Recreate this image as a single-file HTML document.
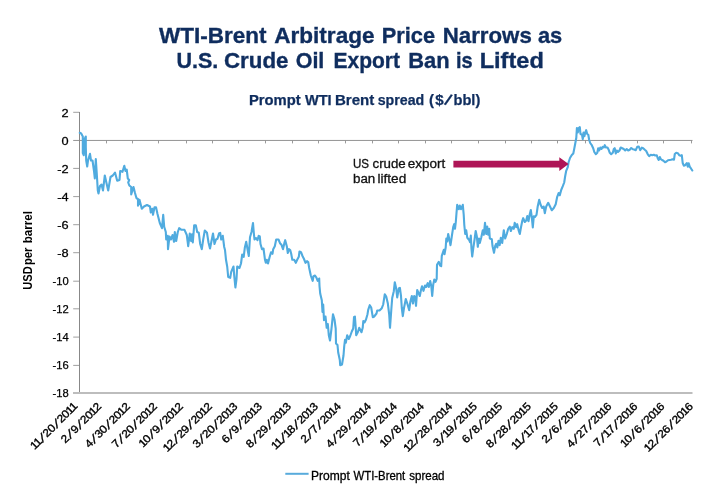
<!DOCTYPE html>
<html lang="en"><head><meta charset="utf-8"><title>WTI-Brent Arbitrage Price Narrows as U.S. Crude Oil Export Ban is Lifted</title>
<style>html,body{margin:0;padding:0;background:#fff;}svg{display:block;}text{font-family:"Liberation Sans",Arial,Helvetica,sans-serif;}</style></head><body>
<svg width="720" height="500" viewBox="0 0 720 500">
<rect width="720" height="500" fill="#fff"/>
<g fill="#0f2d5e" stroke="#0f2d5e" stroke-width="0.35" font-weight="bold">
<text y="43.3" font-size="22"><tspan x="159.00" textLength="107.50" lengthAdjust="spacingAndGlyphs">WTI-Brent</tspan> <tspan x="274.25" textLength="100.26" lengthAdjust="spacingAndGlyphs">Arbitrage</tspan> <tspan x="381.71" textLength="53.31" lengthAdjust="spacingAndGlyphs">Price</tspan> <tspan x="442.72" textLength="89.05" lengthAdjust="spacingAndGlyphs">Narrows</tspan> <tspan x="537.98" textLength="24.30" lengthAdjust="spacingAndGlyphs">as</tspan></text>
<text y="67.9" font-size="22"><tspan x="176.45" textLength="41.87" lengthAdjust="spacingAndGlyphs">U.S.</tspan> <tspan x="223.99" textLength="64.52" lengthAdjust="spacingAndGlyphs">Crude</tspan> <tspan x="295.70" textLength="28.64" lengthAdjust="spacingAndGlyphs">Oil</tspan> <tspan x="333.48" textLength="66.52" lengthAdjust="spacingAndGlyphs">Export</tspan> <tspan x="408.18" textLength="41.39" lengthAdjust="spacingAndGlyphs">Ban</tspan> <tspan x="455.89" textLength="16.67" lengthAdjust="spacingAndGlyphs">is</tspan> <tspan x="479.70" textLength="64.11" lengthAdjust="spacingAndGlyphs">Lifted</tspan></text>
<text x="248.9" y="104.7" font-size="14.3" stroke-width="0.25"><tspan x="248.9" y="104.7" textLength="51.8" lengthAdjust="spacingAndGlyphs">Prompt</tspan> <tspan x="304.9" y="104.7" textLength="26.8" lengthAdjust="spacingAndGlyphs">WTI</tspan> <tspan x="334.9" y="104.7" textLength="39.4" lengthAdjust="spacingAndGlyphs">Brent</tspan> <tspan x="377.7" y="104.7" textLength="46.6" lengthAdjust="spacingAndGlyphs">spread</tspan> <tspan x="428.9" y="104.7" textLength="5.0" lengthAdjust="spacingAndGlyphs">(</tspan><tspan x="435.3" y="104.7" textLength="8.4" lengthAdjust="spacingAndGlyphs">$</tspan><tspan x="444.1" y="104.1" font-size="16" rotate="24">/</tspan><tspan x="453.5" y="104.7" textLength="26.8" lengthAdjust="spacingAndGlyphs">bbl)</tspan></text>
</g>
<g stroke="#888888" stroke-width="1" fill="none">
<line x1="79.5" y1="112" x2="79.5" y2="393"/>
<line x1="73.2" y1="112.30" x2="79.5" y2="112.30" stroke-width="0.8"/>
<line x1="73.2" y1="168.40" x2="79.5" y2="168.40" stroke-width="0.8"/>
<line x1="73.2" y1="196.60" x2="79.5" y2="196.60" stroke-width="0.8"/>
<line x1="73.2" y1="224.70" x2="79.5" y2="224.70" stroke-width="0.8"/>
<line x1="73.2" y1="252.70" x2="79.5" y2="252.70" stroke-width="0.8"/>
<line x1="73.2" y1="281.20" x2="79.5" y2="281.20" stroke-width="0.8"/>
<line x1="73.2" y1="308.80" x2="79.5" y2="308.80" stroke-width="0.8"/>
<line x1="73.2" y1="337.10" x2="79.5" y2="337.10" stroke-width="0.8"/>
<line x1="73.2" y1="365.40" x2="79.5" y2="365.40" stroke-width="0.8"/>
<line x1="73.2" y1="140.45" x2="692.5" y2="140.45" stroke-width="0.9"/>
<line x1="106.5" y1="140.5" x2="106.5" y2="143.4" stroke-width="0.9" stroke="#909090"/>
<line x1="132.5" y1="140.5" x2="132.5" y2="143.4" stroke-width="0.9" stroke="#909090"/>
<line x1="158.5" y1="140.5" x2="158.5" y2="143.4" stroke-width="0.9" stroke="#909090"/>
<line x1="186.5" y1="140.5" x2="186.5" y2="143.4" stroke-width="0.9" stroke="#909090"/>
<line x1="212.5" y1="140.5" x2="212.5" y2="143.4" stroke-width="0.9" stroke="#909090"/>
<line x1="238.5" y1="140.5" x2="238.5" y2="143.4" stroke-width="0.9" stroke="#909090"/>
<line x1="265.5" y1="140.5" x2="265.5" y2="143.4" stroke-width="0.9" stroke="#909090"/>
<line x1="292.5" y1="140.5" x2="292.5" y2="143.4" stroke-width="0.9" stroke="#909090"/>
<line x1="318.5" y1="140.5" x2="318.5" y2="143.4" stroke-width="0.9" stroke="#909090"/>
<line x1="345.5" y1="140.5" x2="345.5" y2="143.4" stroke-width="0.9" stroke="#909090"/>
<line x1="372.5" y1="140.5" x2="372.5" y2="143.4" stroke-width="0.9" stroke="#909090"/>
<line x1="398.5" y1="140.5" x2="398.5" y2="143.4" stroke-width="0.9" stroke="#909090"/>
<line x1="425.5" y1="140.5" x2="425.5" y2="143.4" stroke-width="0.9" stroke="#909090"/>
<line x1="451.5" y1="140.5" x2="451.5" y2="143.4" stroke-width="0.9" stroke="#909090"/>
<line x1="478.5" y1="140.5" x2="478.5" y2="143.4" stroke-width="0.9" stroke="#909090"/>
<line x1="505.5" y1="140.5" x2="505.5" y2="143.4" stroke-width="0.9" stroke="#909090"/>
<line x1="531.5" y1="140.5" x2="531.5" y2="143.4" stroke-width="0.9" stroke="#909090"/>
<line x1="557.5" y1="140.5" x2="557.5" y2="143.4" stroke-width="0.9" stroke="#909090"/>
<line x1="585.5" y1="140.5" x2="585.5" y2="143.4" stroke-width="0.9" stroke="#909090"/>
<line x1="611.5" y1="140.5" x2="611.5" y2="143.4" stroke-width="0.9" stroke="#909090"/>
<line x1="637.5" y1="140.5" x2="637.5" y2="143.4" stroke-width="0.9" stroke="#909090"/>
<line x1="663.5" y1="140.5" x2="663.5" y2="143.4" stroke-width="0.9" stroke="#909090"/>
<line x1="691.5" y1="140.5" x2="691.5" y2="143.4" stroke-width="0.9" stroke="#909090"/>
</g>
<line x1="73" y1="393" x2="692.5" y2="393" stroke="#bdbdbd" stroke-width="2"/>
<g font-size="11.2" fill="#000" stroke="#000" stroke-width="0.25" text-anchor="end">
<text transform="translate(68.7,117.00) scale(1.14,1)">2</text>
<text transform="translate(68.7,144.98) scale(1.14,1)">0</text>
<text transform="translate(68.7,172.96) scale(1.14,1)">-2</text>
<text transform="translate(68.7,200.94) scale(1.14,1)">-4</text>
<text transform="translate(68.7,228.92) scale(1.14,1)">-6</text>
<text transform="translate(68.7,256.90) scale(1.14,1)">-8</text>
<text transform="translate(68.7,284.88) scale(1.0,1)">-10</text>
<text transform="translate(68.7,312.86) scale(1.0,1)">-12</text>
<text transform="translate(68.7,340.84) scale(1.0,1)">-14</text>
<text transform="translate(68.7,368.82) scale(1.0,1)">-16</text>
<text transform="translate(68.7,396.80) scale(1.0,1)">-18</text>
</g>
<text transform="translate(31.5,0) rotate(-90)" y="0" font-size="12.5" font-weight="bold" fill="#000"><tspan x="-289.77" textLength="23.54" lengthAdjust="spacingAndGlyphs">USD</tspan> <tspan x="-265.02" textLength="17.52" lengthAdjust="spacingAndGlyphs">per</tspan> <tspan x="-243.28" textLength="32.31" lengthAdjust="spacingAndGlyphs">barrel</tspan></text>
<g font-size="11.0" fill="#000" stroke="#000" stroke-width="0.35">
<text transform="translate(77.60,407.20) rotate(-45) scale(1.1,1)" x="-55.51 -50.97 -45.41 -39.29 -33.38 -27.14 -21.01 -15.10 -9.88 -5.33" y="0.00 0.00 0.19 0.00 0.00 0.19 0.00 0.00 0.00 0.00" rotate="0 0 17 0 0 17 0 0 0 0">11<tspan font-size="12.6">/</tspan>20<tspan font-size="12.6">/</tspan>2011</text>
<text transform="translate(102.00,407.20) rotate(-45) scale(1.1,1)" x="-47.10 -40.86 -34.74 -28.50 -22.38 -16.47 -11.24 -6.01" y="0.00 0.19 0.00 0.19 0.00 0.00 0.00 0.00" rotate="0 17 0 17 0 0 0 0">2<tspan font-size="12.6">/</tspan>9<tspan font-size="12.6">/</tspan>2012</text>
<text transform="translate(130.60,407.20) rotate(-45) scale(1.1,1)" x="-53.01 -46.77 -40.65 -34.74 -28.50 -22.38 -16.47 -11.24 -6.01" y="0.00 0.19 0.00 0.00 0.19 0.00 0.00 0.00 0.00" rotate="0 17 0 0 17 0 0 0 0">4<tspan font-size="12.6">/</tspan>30<tspan font-size="12.6">/</tspan>2012</text>
<text transform="translate(157.60,407.20) rotate(-45) scale(1.1,1)" x="-53.01 -46.77 -40.65 -34.74 -28.50 -22.38 -16.47 -11.24 -6.01" y="0.00 0.19 0.00 0.00 0.19 0.00 0.00 0.00 0.00" rotate="0 17 0 0 17 0 0 0 0">7<tspan font-size="12.6">/</tspan>20<tspan font-size="12.6">/</tspan>2012</text>
<text transform="translate(183.60,407.20) rotate(-45) scale(1.1,1)" x="-52.33 -47.10 -40.86 -34.74 -28.50 -22.38 -16.47 -11.24 -6.01" y="0.00 0.00 0.19 0.00 0.19 0.00 0.00 0.00 0.00" rotate="0 0 17 0 17 0 0 0 0">10<tspan font-size="12.6">/</tspan>9<tspan font-size="12.6">/</tspan>2012</text>
<text transform="translate(212.60,407.20) rotate(-45) scale(1.1,1)" x="-58.24 -53.01 -46.77 -40.65 -34.74 -28.50 -22.38 -16.47 -11.24 -6.01" y="0.00 0.00 0.19 0.00 0.00 0.19 0.00 0.00 0.00 0.00" rotate="0 0 17 0 0 17 0 0 0 0">12<tspan font-size="12.6">/</tspan>29<tspan font-size="12.6">/</tspan>2012</text>
<text transform="translate(238.20,407.20) rotate(-45) scale(1.1,1)" x="-53.01 -46.77 -40.65 -34.74 -28.50 -22.38 -16.47 -11.24 -6.01" y="0.00 0.19 0.00 0.00 0.19 0.00 0.00 0.00 0.00" rotate="0 17 0 0 17 0 0 0 0">3<tspan font-size="12.6">/</tspan>20<tspan font-size="12.6">/</tspan>2013</text>
<text transform="translate(262.60,407.20) rotate(-45) scale(1.1,1)" x="-47.10 -40.86 -34.74 -28.50 -22.38 -16.47 -11.24 -6.01" y="0.00 0.19 0.00 0.19 0.00 0.00 0.00 0.00" rotate="0 17 0 17 0 0 0 0">6<tspan font-size="12.6">/</tspan>9<tspan font-size="12.6">/</tspan>2013</text>
<text transform="translate(291.60,407.20) rotate(-45) scale(1.1,1)" x="-53.01 -46.77 -40.65 -34.74 -28.50 -22.38 -16.47 -11.24 -6.01" y="0.00 0.19 0.00 0.00 0.19 0.00 0.00 0.00 0.00" rotate="0 17 0 0 17 0 0 0 0">8<tspan font-size="12.6">/</tspan>29<tspan font-size="12.6">/</tspan>2013</text>
<text transform="translate(318.60,407.20) rotate(-45) scale(1.1,1)" x="-55.51 -50.97 -45.41 -39.97 -34.74 -28.50 -22.38 -16.47 -11.24 -6.01" y="0.00 0.00 0.19 0.00 0.00 0.19 0.00 0.00 0.00 0.00" rotate="0 0 17 0 0 17 0 0 0 0">11<tspan font-size="12.6">/</tspan>18<tspan font-size="12.6">/</tspan>2013</text>
<text transform="translate(341.60,407.20) rotate(-45) scale(1.1,1)" x="-47.10 -40.86 -34.74 -28.50 -22.38 -16.47 -11.24 -6.01" y="0.00 0.19 0.00 0.19 0.00 0.00 0.00 0.00" rotate="0 17 0 17 0 0 0 0">2<tspan font-size="12.6">/</tspan>7<tspan font-size="12.6">/</tspan>2014</text>
<text transform="translate(371.60,407.20) rotate(-45) scale(1.1,1)" x="-53.01 -46.77 -40.65 -34.74 -28.50 -22.38 -16.47 -11.24 -6.01" y="0.00 0.19 0.00 0.00 0.19 0.00 0.00 0.00 0.00" rotate="0 17 0 0 17 0 0 0 0">4<tspan font-size="12.6">/</tspan>29<tspan font-size="12.6">/</tspan>2014</text>
<text transform="translate(397.60,407.20) rotate(-45) scale(1.1,1)" x="-51.65 -45.41 -39.97 -34.74 -28.50 -22.38 -16.47 -11.24 -6.01" y="0.00 0.19 0.00 0.00 0.19 0.00 0.00 0.00 0.00" rotate="0 17 0 0 17 0 0 0 0">7<tspan font-size="12.6">/</tspan>19<tspan font-size="12.6">/</tspan>2014</text>
<text transform="translate(424.60,407.20) rotate(-45) scale(1.1,1)" x="-52.33 -47.10 -40.86 -34.74 -28.50 -22.38 -16.47 -11.24 -6.01" y="0.00 0.00 0.19 0.00 0.19 0.00 0.00 0.00 0.00" rotate="0 0 17 0 17 0 0 0 0">10<tspan font-size="12.6">/</tspan>8<tspan font-size="12.6">/</tspan>2014</text>
<text transform="translate(453.00,407.20) rotate(-45) scale(1.1,1)" x="-58.24 -53.01 -46.77 -40.65 -34.74 -28.50 -22.38 -16.47 -11.24 -6.01" y="0.00 0.00 0.19 0.00 0.00 0.19 0.00 0.00 0.00 0.00" rotate="0 0 17 0 0 17 0 0 0 0">12<tspan font-size="12.6">/</tspan>28<tspan font-size="12.6">/</tspan>2014</text>
<text transform="translate(477.60,407.20) rotate(-45) scale(1.1,1)" x="-51.65 -45.41 -39.97 -34.74 -28.50 -22.38 -16.47 -11.24 -6.01" y="0.00 0.19 0.00 0.00 0.19 0.00 0.00 0.00 0.00" rotate="0 17 0 0 17 0 0 0 0">3<tspan font-size="12.6">/</tspan>19<tspan font-size="12.6">/</tspan>2015</text>
<text transform="translate(503.00,407.20) rotate(-45) scale(1.1,1)" x="-47.10 -40.86 -34.74 -28.50 -22.38 -16.47 -11.24 -6.01" y="0.00 0.19 0.00 0.19 0.00 0.00 0.00 0.00" rotate="0 17 0 17 0 0 0 0">6<tspan font-size="12.6">/</tspan>8<tspan font-size="12.6">/</tspan>2015</text>
<text transform="translate(531.60,407.20) rotate(-45) scale(1.1,1)" x="-53.01 -46.77 -40.65 -34.74 -28.50 -22.38 -16.47 -11.24 -6.01" y="0.00 0.19 0.00 0.00 0.19 0.00 0.00 0.00 0.00" rotate="0 17 0 0 17 0 0 0 0">8<tspan font-size="12.6">/</tspan>28<tspan font-size="12.6">/</tspan>2015</text>
<text transform="translate(558.60,407.20) rotate(-45) scale(1.1,1)" x="-55.51 -50.97 -45.41 -39.97 -34.74 -28.50 -22.38 -16.47 -11.24 -6.01" y="0.00 0.00 0.19 0.00 0.00 0.19 0.00 0.00 0.00 0.00" rotate="0 0 17 0 0 17 0 0 0 0">11<tspan font-size="12.6">/</tspan>17<tspan font-size="12.6">/</tspan>2015</text>
<text transform="translate(582.60,407.20) rotate(-45) scale(1.1,1)" x="-47.10 -40.86 -34.74 -28.50 -22.38 -16.47 -11.24 -6.01" y="0.00 0.19 0.00 0.19 0.00 0.00 0.00 0.00" rotate="0 17 0 17 0 0 0 0">2<tspan font-size="12.6">/</tspan>6<tspan font-size="12.6">/</tspan>2016</text>
<text transform="translate(612.20,407.20) rotate(-45) scale(1.1,1)" x="-53.01 -46.77 -40.65 -34.74 -28.50 -22.38 -16.47 -11.24 -6.01" y="0.00 0.19 0.00 0.00 0.19 0.00 0.00 0.00 0.00" rotate="0 17 0 0 17 0 0 0 0">4<tspan font-size="12.6">/</tspan>27<tspan font-size="12.6">/</tspan>2016</text>
<text transform="translate(638.20,407.20) rotate(-45) scale(1.1,1)" x="-51.65 -45.41 -39.97 -34.74 -28.50 -22.38 -16.47 -11.24 -6.01" y="0.00 0.19 0.00 0.00 0.19 0.00 0.00 0.00 0.00" rotate="0 17 0 0 17 0 0 0 0">7<tspan font-size="12.6">/</tspan>17<tspan font-size="12.6">/</tspan>2016</text>
<text transform="translate(665.20,407.20) rotate(-45) scale(1.1,1)" x="-52.33 -47.10 -40.86 -34.74 -28.50 -22.38 -16.47 -11.24 -6.01" y="0.00 0.00 0.19 0.00 0.19 0.00 0.00 0.00 0.00" rotate="0 0 17 0 17 0 0 0 0">10<tspan font-size="12.6">/</tspan>6<tspan font-size="12.6">/</tspan>2016</text>
<text transform="translate(693.60,407.20) rotate(-45) scale(1.1,1)" x="-58.24 -53.01 -46.77 -40.65 -34.74 -28.50 -22.38 -16.47 -11.24 -6.01" y="0.00 0.00 0.19 0.00 0.00 0.19 0.00 0.00 0.00 0.00" rotate="0 0 17 0 0 17 0 0 0 0">12<tspan font-size="12.6">/</tspan>26<tspan font-size="12.6">/</tspan>2016</text>
</g>
<path d="M79.8,132.8 L81.2,133.5 L82.8,136.5 L82.8,153.0 L83.8,155.2 L84.5,139.5 L85.8,136.5 L85.8,147.0 L86.2,160.5 L87.2,166.5 L88.0,160.5 L90.0,153.8 L91.0,160.5 L92.5,160.5 L94.0,171.0 L94.8,178.5 L95.8,159.0 L96.7,172.5 L97.8,190.5 L98.5,193.5 L100.0,186.0 L101.5,184.5 L103.0,190.5 L104.8,175.5 L106.8,184.5 L108.2,190.5 L110.5,177.0 L112.8,175.5 L115.0,172.5 L117.2,180.8 L119.5,180.0 L120.2,171.0 L122.5,171.8 L124.3,165.8 L125.5,171.0 L126.7,169.5 L127.8,178.5 L129.2,180.0 L128.2,182.5 L129.3,185.5 L131.2,187.0 L131.2,194.5 L133.5,187.0 L135.0,193.0 L136.5,198.2 L138.0,199.0 L138.0,205.8 L139.5,199.8 L141.8,208.8 L144.0,206.5 L147.0,205.0 L150.0,206.5 L150.8,212.5 L152.2,208.8 L153.0,214.8 L154.5,207.2 L156.0,207.2 L157.5,214.0 L159.8,223.0 L162.0,228.2 L163.2,214.8 L164.2,226.8 L165.8,232.0 L166.2,239.5 L167.7,235.8 L168.0,249.2 L169.5,236.5 L171.0,239.5 L172.5,235.0 L174.0,241.8 L174.8,232.0 L176.2,241.0 L177.8,232.0 L179.2,228.2 L181.5,229.8 L184.5,229.8 L186.8,235.0 L188.2,246.2 L189.8,233.5 L191.2,241.0 L192.0,234.2 L192.8,242.5 L194.2,225.2 L195.8,225.2 L197.2,232.0 L198.8,232.8 L200.2,244.0 L201.8,249.2 L203.2,239.5 L204.8,230.5 L207.0,232.8 L208.5,242.5 L210.0,248.5 L211.5,241.0 L213.0,233.5 L214.5,244.0 L216.0,239.5 L217.5,238.8 L219.0,233.5 L220.2,232.8 L221.2,239.5 L222.8,235.8 L224.2,247.0 L225.0,250.0 L226.0,259.8 L227.2,266.5 L228.2,277.0 L230.2,277.8 L231.2,271.8 L233.5,266.5 L234.2,275.5 L235.4,287.5 L236.5,279.2 L237.2,266.5 L239.5,268.0 L241.0,263.5 L242.2,254.5 L243.7,256.8 L244.8,247.8 L246.2,241.8 L247.8,250.8 L248.8,256.0 L250.0,237.2 L251.5,232.0 L253.0,223.0 L253.8,232.8 L254.5,239.5 L256.0,238.0 L257.5,240.2 L258.7,235.8 L259.8,236.5 L260.5,244.0 L262.0,249.2 L263.5,248.5 L265.0,259.8 L265.8,262.8 L266.8,259.8 L268.0,263.5 L269.5,257.5 L271.0,252.2 L272.5,253.8 L273.2,249.2 L274.8,246.2 L276.2,239.5 L278.5,239.5 L280.0,243.2 L281.5,244.8 L283.0,249.2 L284.5,242.5 L285.2,240.2 L286.8,246.2 L287.8,253.0 L289.0,249.2 L290.2,250.0 L291.2,253.8 L292.3,259.8 L294.2,259.8 L295.8,262.8 L297.2,259.8 L298.8,256.8 L299.5,251.5 L301.0,252.2 L302.5,256.0 L304.0,259.0 L305.5,262.8 L307.0,261.2 L308.2,262.0 L309.2,268.0 L310.8,275.5 L312.7,280.8 L313.5,276.2 L315.0,275.5 L316.5,277.8 L317.7,280.8 L319.2,278.5 L319.5,286.0 L320.2,293.5 L321.8,300.2 L322.5,312.0 L323.2,304.5 L324.0,320.2 L325.5,316.5 L326.7,327.8 L327.8,324.0 L328.8,335.2 L330.0,340.5 L331.5,328.5 L333.0,314.2 L334.5,319.5 L335.7,328.5 L336.0,343.5 L337.5,345.0 L338.2,352.5 L339.8,360.0 L340.2,365.2 L342.0,364.5 L343.5,355.5 L344.2,346.5 L345.0,339.8 L345.8,342.8 L347.2,335.2 L348.8,339.0 L350.2,336.0 L351.8,331.5 L353.2,328.5 L354.0,317.2 L354.9,316.5 L355.8,328.5 L356.2,335.2 L357.8,332.2 L359.2,327.8 L361.5,332.2 L362.7,327.8 L363.3,321.0 L364.5,322.5 L366.0,319.5 L367.5,314.2 L368.2,309.8 L369.8,305.2 L371.2,307.5 L372.8,317.2 L374.2,316.5 L376.5,313.5 L377.2,310.5 L379.5,310.5 L381.8,308.2 L383.2,304.5 L384.8,294.2 L386.2,296.5 L387.8,303.2 L389.2,314.5 L390.0,327.8 L391.5,307.0 L392.2,298.0 L393.8,291.2 L394.8,282.2 L396.2,288.5 L397.2,297.5 L398.8,288.5 L399.9,287.8 L401.0,296.0 L401.8,308.0 L402.8,316.2 L404.0,308.0 L405.8,299.0 L407.3,303.5 L409.2,310.2 L410.3,302.0 L411.8,296.0 L413.0,303.5 L414.2,296.0 L415.2,296.8 L416.0,305.8 L417.2,290.0 L418.2,292.2 L419.8,296.0 L420.8,290.8 L422.0,286.2 L423.5,290.8 L425.0,285.5 L426.2,287.0 L427.7,283.2 L428.8,287.0 L430.2,281.0 L431.3,286.2 L432.2,296.0 L433.2,284.8 L434.3,279.5 L435.5,281.8 L436.7,278.8 L437.0,264.8 L438.8,261.8 L440.0,265.5 L441.2,266.2 L441.8,255.8 L443.8,249.8 L444.5,254.2 L445.7,247.5 L446.3,238.5 L447.2,241.5 L448.2,234.0 L449.3,239.2 L450.5,245.2 L451.7,237.0 L453.2,227.2 L454.2,224.2 L455.0,228.8 L455.8,222.0 L456.5,213.0 L457.2,204.8 L458.8,209.2 L459.8,205.5 L461.0,209.2 L462.8,204.8 L463.7,214.5 L464.3,225.0 L465.2,234.0 L466.2,230.2 L467.3,237.8 L469.2,240.0 L470.0,242.2 L470.8,235.5 L471.5,249.0 L472.2,256.5 L473.3,248.2 L474.5,240.0 L475.7,231.0 L476.8,236.2 L477.8,246.8 L479.0,238.5 L479.8,243.0 L481.2,237.8 L482.8,230.2 L483.8,234.8 L485.0,222.8 L486.2,234.0 L487.2,226.5 L488.3,234.8 L489.2,228.8 L489.8,238.5 L491.8,239.2 L492.5,246.0 L494.0,252.8 L495.2,246.0 L496.2,243.8 L497.3,247.5 L498.5,240.8 L499.7,245.2 L500.8,237.8 L502.2,243.0 L503.8,230.2 L505.2,238.5 L506.8,234.0 L508.2,228.8 L509.8,226.5 L510.8,231.0 L512.3,227.2 L513.8,228.8 L514.7,222.8 L516.2,227.2 L517.2,224.2 L518.8,231.0 L519.8,234.0 L521.0,227.2 L522.2,221.2 L523.2,218.2 L524.8,222.0 L526.2,220.5 L527.3,216.0 L528.5,221.2 L529.7,214.5 L530.8,210.0 L531.8,217.5 L532.8,227.5 L533.8,216.2 L535.0,217.0 L536.5,214.8 L537.7,206.5 L539.2,199.8 L540.7,205.0 L542.2,208.0 L543.7,206.5 L544.8,213.2 L546.2,206.5 L548.2,202.8 L550.0,206.5 L551.8,210.2 L553.8,208.0 L555.7,204.2 L557.2,196.8 L558.7,193.0 L559.8,195.2 L561.2,190.0 L562.8,186.2 L564.2,182.5 L565.2,176.0 L566.2,170.8 L567.8,167.0 L568.5,162.5 L570.0,158.0 L571.8,155.0 L573.3,153.5 L574.2,149.0 L575.2,143.8 L576.3,137.8 L576.9,128.0 L577.8,132.5 L578.7,128.0 L579.8,127.2 L580.5,134.0 L582.0,134.8 L582.8,139.2 L583.5,132.5 L584.4,136.2 L585.3,132.5 L586.2,130.2 L587.2,134.0 L588.3,134.8 L589.2,140.0 L590.2,143.0 L591.8,145.2 L593.2,148.2 L594.3,152.0 L595.8,154.2 L597.3,152.8 L598.2,148.2 L599.2,150.5 L600.3,147.5 L601.5,149.0 L602.7,146.8 L603.8,147.5 L604.8,145.2 L606.0,147.5 L607.5,147.5 L608.7,149.8 L609.8,152.8 L611.2,154.2 L612.8,152.8 L613.8,149.0 L614.7,148.2 L615.8,153.5 L616.8,150.5 L618.0,152.0 L619.5,150.5 L620.7,147.5 L622.2,148.2 L623.7,149.0 L625.2,150.5 L626.7,149.0 L628.2,150.5 L629.7,149.8 L631.2,148.0 L632.8,149.2 L634.2,149.5 L635.8,150.2 L637.2,146.8 L638.8,146.5 L640.2,150.2 L641.8,147.7 L643.2,148.3 L644.8,149.8 L646.2,151.0 L647.8,154.3 L649.2,156.2 L650.8,154.8 L652.2,155.2 L653.8,154.8 L655.2,155.5 L656.8,155.2 L657.8,158.5 L658.7,160.0 L659.8,157.0 L660.8,159.2 L662.0,160.0 L663.5,160.8 L665.0,162.2 L666.5,161.5 L668.0,160.3 L669.5,160.0 L671.0,159.7 L672.5,159.2 L674.0,159.7 L674.8,154.0 L676.2,152.8 L677.8,153.2 L679.2,155.2 L680.8,155.8 L681.8,155.2 L682.7,163.0 L683.8,165.7 L685.2,165.2 L686.8,163.0 L687.8,166.8 L688.7,163.3 L689.8,166.8 L690.8,168.2 L692.3,170.5" fill="none" stroke="#50abdf" stroke-width="2.1" stroke-linejoin="round" stroke-linecap="round"/>
<g font-size="12.5" fill="#111" stroke="#111" stroke-width="0.3">
<text y="168"><tspan x="352.96" textLength="16.06" lengthAdjust="spacingAndGlyphs">US</tspan> <tspan x="372.50" textLength="33.26" lengthAdjust="spacingAndGlyphs">crude</tspan> <tspan x="407.75" textLength="37.50" lengthAdjust="spacingAndGlyphs">export</tspan></text>
<text y="183"><tspan x="352.96" textLength="22.33" lengthAdjust="spacingAndGlyphs">ban</tspan> <tspan x="377.48" textLength="28.79" lengthAdjust="spacingAndGlyphs">lifted</tspan></text>
</g>
<path d="M453.4,160.8 H559.3 V157.3 L568.6,164.1 L559.3,170.9 V167.5 H453.4 Z" fill="#ae1556"/>
<line x1="285.3" y1="473.8" x2="308.6" y2="473.8" stroke="#58abdc" stroke-width="2"/>
<text y="479.5" font-size="12.4" fill="#000" stroke="#000" stroke-width="0.3"><tspan x="310.99" textLength="38.75" lengthAdjust="spacingAndGlyphs">Prompt</tspan> <tspan x="353.50" textLength="51.75" lengthAdjust="spacingAndGlyphs">WTI-Brent</tspan> <tspan x="409.25" textLength="35.26" lengthAdjust="spacingAndGlyphs">spread</tspan></text>
</svg></body></html>
